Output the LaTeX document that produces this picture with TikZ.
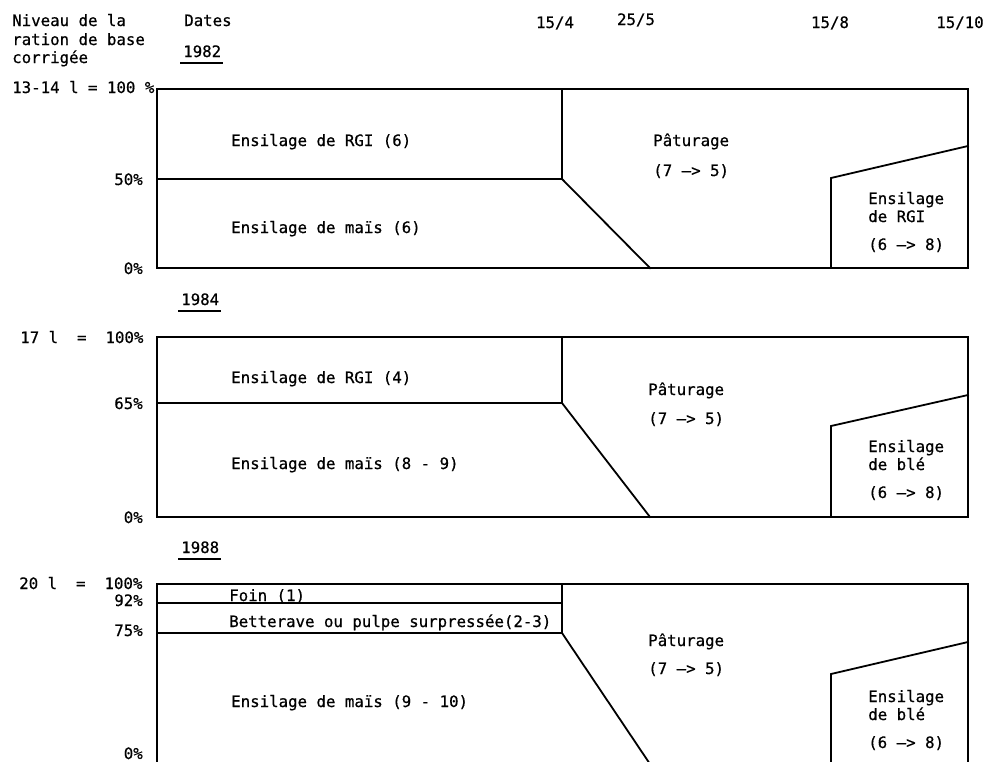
\documentclass[tikz,border=0pt]{standalone}
\usepackage{fontspec}
\newfontfamily\tw[FakeBold=0.6]{DejaVu Sans Mono}
\begin{document}
\begin{tikzpicture}[x=0.75pt,y=-0.75pt,
  txt/.style={font=\tw\fontsize{11.8pt}{14pt}\selectfont, inner sep=0pt, anchor=base west},
  rtxt/.style={txt, anchor=base east},
  ctxt/.style={txt, anchor=base},
  ln/.style={line width=1.35pt, line cap=rect, line join=miter},
  ul/.style={line width=1.1pt}]
\useasboundingbox (0,0) rectangle (985,761);
\clip (0,0) rectangle (985,761);
% header
\node[txt] (h1) at (12,26) {Niveau de la};
\node[txt] (h2) at (12,45) {ration de base};
\node[txt] (h3) at (12,63) {corrigée};
\node[txt] (dates) at (184,26) {Dates};
\node[ctxt] (d1) at (555,28) {15/4};
\node[ctxt] (d2) at (636,25) {25/5};
\node[ctxt] (d3) at (830,28) {15/8};
\node[ctxt] (d4) at (960,28) {15/10};
% ---------- 1982
\node[txt] (y1) at (183,57) {1982};
\draw[ul] ([xshift=-2pt,yshift=-4.5pt]y1.base west) -- ([xshift=1pt,yshift=-4.5pt]y1.base east);
\node[txt] (l1a) at (12,93) {13-14 l = 100 \%};
\node[rtxt] (l1b) at (143,185) {50\%};
\node[rtxt] (l1c) at (143,274) {0\%};
\draw[ln] (157,89) rectangle (968,268);
\draw[ln] (157,179) -- (562,179) -- (650,268);
\draw[ln] (562,89) -- (562,179);
\draw[ln] (831,268) -- (831,178) -- (968,146);
\node[txt] (a1) at (231,146) {Ensilage de RGI (6)};
\node[txt] (b1) at (231,233) {Ensilage de maïs (6)};
\node[txt] (p1) at (653,146) {Pâturage};
\node[txt] (q1) at (653,176) {(7 —> 5)};
\node[txt] (e1) at (868,204) {Ensilage};
\node[txt] (f1) at (868,222) {de RGI};
\node[txt] (g1) at (868,250) {(6 —> 8)};
% ---------- 1984
\node[txt] (y2) at (181,305) {1984};
\draw[ul] ([xshift=-2pt,yshift=-4.5pt]y2.base west) -- ([xshift=1pt,yshift=-4.5pt]y2.base east);
\node[txt] (l2a) at (20,343) {17~l~~=~~100\%};
\node[rtxt] (l2b) at (143,409) {65\%};
\node[rtxt] (l2c) at (143,523) {0\%};
\draw[ln] (157,337) rectangle (968,517);
\draw[ln] (157,403) -- (562,403) -- (650,517);
\draw[ln] (562,337) -- (562,403);
\draw[ln] (831,517) -- (831,426) -- (968,395);
\node[txt] (a2) at (231,383) {Ensilage de RGI (4)};
\node[txt] (b2) at (231,469) {Ensilage de maïs (8 - 9)};
\node[txt] (p2) at (648,395) {Pâturage};
\node[txt] (q2) at (648,424) {(7 —> 5)};
\node[txt] (e2) at (868,452) {Ensilage};
\node[txt] (f2) at (868,470) {de blé};
\node[txt] (g2) at (868,498) {(6 —> 8)};
% ---------- 1988
\node[txt] (y3) at (181,553) {1988};
\draw[ul] ([xshift=-2pt,yshift=-4.5pt]y3.base west) -- ([xshift=1pt,yshift=-4.5pt]y3.base east);
\node[txt] (l3a) at (19,589) {20~l~~=~~100\%};
\node[rtxt] (l3b) at (143,606) {92\%};
\node[rtxt] (l3c) at (143,636) {75\%};
\node[rtxt] (l3d) at (143,759) {0\%};
\draw[ln] (157,770) -- (157,584) -- (968,584) -- (968,770);
\draw[ln] (157,603) -- (562,603);
\draw[ln] (157,633) -- (562,633) -- (654,770);
\draw[ln] (562,584) -- (562,633);
\draw[ln] (831,770) -- (831,674) -- (968,642);
\node[txt] (a3) at (229,601) {Foin (1)};
\node[txt] (c3) at (229,627) {Betterave ou pulpe surpressée(2-3)};
\node[txt] (b3) at (231,707) {Ensilage de maïs (9 - 10)};
\node[txt] (p3) at (648,646) {Pâturage};
\node[txt] (q3) at (648,674) {(7 —> 5)};
\node[txt] (e3) at (868,702) {Ensilage};
\node[txt] (f3) at (868,720) {de blé};
\node[txt] (g3) at (868,748) {(6 —> 8)};
\end{tikzpicture}
\end{document}
